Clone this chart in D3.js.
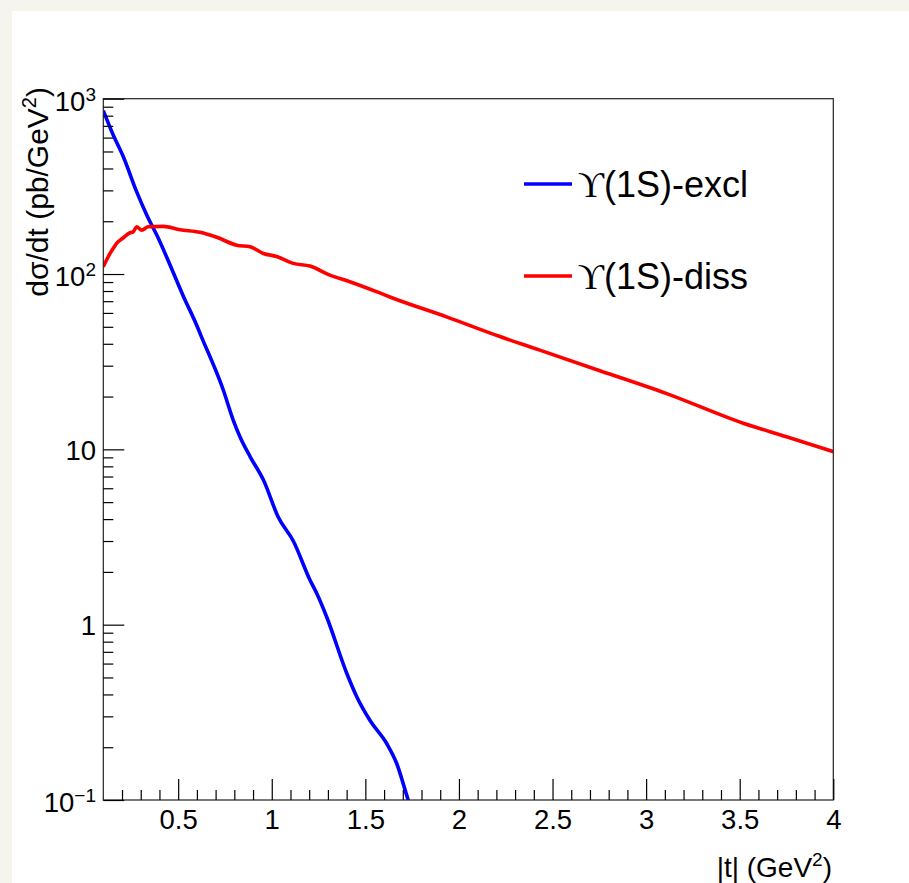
<!DOCTYPE html>
<html>
<head>
<meta charset="utf-8">
<script src="https://cdn.jsdelivr.net/npm/d3@7"></script>
<style>
  html, body { margin: 0; padding: 0; background: #f5f5ee; }
  svg { display: block; }
</style>
</head>
<body>
<svg id="chart" width="909" height="883"></svg>
<script>
// ## DATA ##
const exclT = [0.1, 0.153, 0.207, 0.278, 0.332, 0.394, 0.456, 0.527, 0.599, 0.62, 0.741, 0.794, 0.83, 0.884, 0.955, 1.035, 1.115, 1.204, 1.24, 1.293, 1.40, 1.454, 1.525, 1.614, 1.667, 1.729, 1.76];
const exclV = [855, 621, 467, 295, 217, 160, 113, 75, 51, 45, 21.8, 14.7, 11.8, 9.1, 6.7, 4.1, 3.0, 1.8, 1.51, 1.11, 0.53, 0.388, 0.284, 0.21, 0.162, 0.1, 0.08];

const dissT = [0.1, 0.136, 0.153, 0.172, 0.207, 0.243, 0.26, 0.278, 0.305, 0.34, 0.42, 0.51, 0.617, 0.706, 0.813, 0.884, 0.955, 1.026, 1.115, 1.204, 1.31, 1.417, 1.577, 1.631, 1.934, 2.219, 2.432, 2.753, 3.11, 3.519, 3.75, 4.0];
const dissV = [110, 131, 140, 150, 161, 172, 174, 186, 178, 186, 187, 179, 173, 162, 146, 143, 131, 126, 115, 111, 98.6, 90.4, 78, 74, 57, 44, 36.8, 28.1, 20.8, 14.1, 11.8, 9.7];

const xMajor = [0.5, 1, 1.5, 2, 2.5, 3, 3.5, 4];
const xLabels = ["0.5", "1", "1.5", "2", "2.5", "3", "3.5", "4"];
const yMajor = [0.1, 1, 10, 100, 1000];
const yBase = ["10", "1", "10", "10", "10"];
const yExp = ["\u22121", "", "", "2", "3"];

const seriesNames = ["(1S)-excl", "(1S)-diss"];
const seriesColors = ["#0000ff", "#ff0000"];

// ## LAYOUT ##
const svg = d3.select("#chart");
const frame = { left: 103.3, right: 833.3, top: 98.7, bottom: 800 };
const sans = "'Liberation Sans', Arial, Helvetica, sans-serif";

// white pad
svg.append("rect")
    .attr("x", 12).attr("y", 11)
    .attr("width", 909 - 12).attr("height", 883 - 11)
    .attr("fill", "#ffffff");

const x = d3.scaleLinear().domain([0.1, 4]).range([frame.left, frame.right]);
const y = d3.scaleLog().domain([0.1, 1000]).range([frame.bottom, frame.top]);

// minor tick values
const xMinor = d3.range(2, 41).map(i => i / 10).filter(v => !xMajor.some(m => Math.abs(m - v) < 1e-6));
const yMinor = [];
[0.1, 1, 10, 100].forEach(dec => {
  for (let k = 2; k <= 9; k++) yMinor.push(dec * k);
});

// ## CURVES ##
svg.append("clipPath").attr("id", "plot-clip")
  .append("rect")
    .attr("x", frame.left).attr("y", frame.top)
    .attr("width", frame.right - frame.left).attr("height", frame.bottom - frame.top);

const line = d3.line()
    .x(d => x(d[0]))
    .y(d => y(d[1]))
    .curve(d3.curveMonotoneX);

const curves = [d3.zip(exclT, exclV), d3.zip(dissT, dissV)];
svg.append("g")
    .attr("clip-path", "url(#plot-clip)")
  .selectAll("path")
  .data(curves)
  .join("path")
    .attr("d", line)
    .attr("fill", "none")
    .attr("stroke", (d, i) => seriesColors[i])
    .attr("stroke-width", 3.6)
    .attr("stroke-linejoin", "round");

// ## FRAME ##
svg.append("rect")
    .attr("x", frame.left).attr("y", frame.top)
    .attr("width", frame.right - frame.left).attr("height", frame.bottom - frame.top)
    .attr("fill", "none")
    .attr("stroke", "#222")
    .attr("stroke-width", 1.2);

// ## X AXIS ##
const xAxisG = svg.append("g").attr("transform", `translate(0,${frame.bottom})`);
xAxisG.append("g")
    .call(d3.axisBottom(x).tickValues(xMinor).tickSize(-10).tickFormat(""))
    .call(g => g.select(".domain").remove());
xAxisG.append("g")
    .call(d3.axisBottom(x).tickValues(xMajor).tickSize(-21).tickPadding(9)
      .tickFormat((d, i) => xLabels[i]))
    .call(g => g.select(".domain").remove())
    .call(g => g.selectAll("text")
      .attr("font-family", sans)
      .attr("font-size", 27.5)
      .attr("fill", "#000"));
xAxisG.selectAll("line").attr("stroke", "#000").attr("stroke-width", 1.2);

// ## Y AXIS ##
const yAxisG = svg.append("g").attr("transform", `translate(${frame.left},0)`);
yAxisG.append("g")
    .call(d3.axisLeft(y).tickValues(yMinor).tickSize(-10).tickFormat(""))
    .call(g => g.select(".domain").remove());
yAxisG.append("g")
    .call(d3.axisLeft(y).tickValues(yMajor).tickSize(-21).tickFormat(""))
    .call(g => g.select(".domain").remove());
yAxisG.selectAll("line").attr("stroke", "#000").attr("stroke-width", 1.2);

// y tick labels with exponents
const yLab = svg.append("g")
    .attr("font-family", sans)
    .attr("font-size", 27.5)
    .attr("text-anchor", "end")
  .selectAll("text")
  .data(yMajor)
  .join("text")
    .attr("x", 96)
    .attr("y", (d, i) => y(d) + (yExp[i] ? 12 : 10.5));
yLab.append("tspan").text((d, i) => yBase[i]);
yLab.filter((d, i) => yExp[i] !== "")
  .append("tspan")
    .attr("font-size", 19)
    .attr("dy", -10)
    .text(d => yExp[yMajor.indexOf(d)]);

// ## AXIS TITLES ##
const xTitle = svg.append("text")
    .attr("x", 832).attr("y", 877)
    .attr("text-anchor", "end")
    .attr("font-family", sans)
    .attr("font-size", 28);
xTitle.append("tspan").text("|t| (GeV");
xTitle.append("tspan").attr("font-size", 19).attr("dy", -11).text("2");
xTitle.append("tspan").attr("dy", 11).text(")");

const yTitle = svg.append("text")
    .attr("transform", "translate(48,87) rotate(-90)")
    .attr("text-anchor", "end")
    .attr("font-family", sans)
    .attr("font-size", 30);
yTitle.append("tspan").text("d\u03c3/dt (pb/GeV");
yTitle.append("tspan").attr("font-size", 20).attr("dy", -12).text("2");
yTitle.append("tspan").attr("dy", 12).text(")");

// ## LEGEND ##
const legendY = [184, 276];
const legend = svg.append("g")
  .selectAll("g")
  .data(seriesNames)
  .join("g")
    .attr("transform", (d, i) => `translate(0,${legendY[i]})`);
legend.append("line")
    .attr("x1", 524).attr("x2", 572)
    .attr("y1", 0).attr("y2", 0)
    .attr("stroke", (d, i) => seriesColors[i])
    .attr("stroke-width", 3.6);
const legendText = legend.append("text")
    .attr("x", 578).attr("y", 12.5)
    .attr("font-family", sans)
    .attr("font-size", 36);
legendText.append("tspan")
    .attr("font-family", "'Liberation Serif', 'DejaVu Serif', serif")
    .text("\u03d2");
legendText.append("tspan").text(d => d);
</script>
</body>
</html>
